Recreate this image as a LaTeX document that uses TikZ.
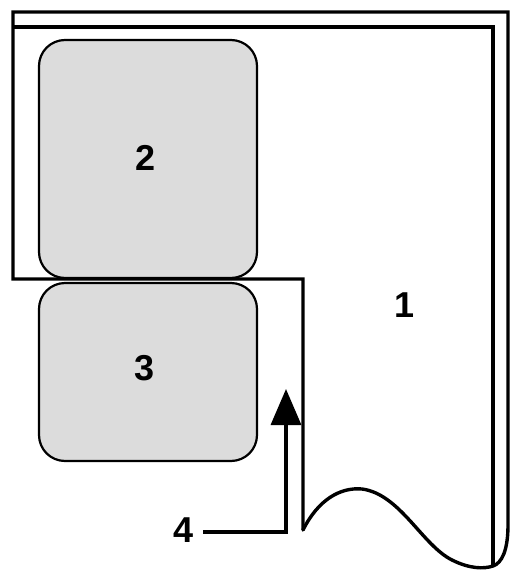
\documentclass[tikz,border=0pt]{standalone}
\usepackage{fontspec}
\setmainfont{Liberation Sans}
\usetikzlibrary{arrows.meta}
\definecolor{boxgray}{HTML}{DCDCDC}
\begin{document}
\begin{tikzpicture}[x=1pt,y=-1pt,
  frame/.style={line width=3.4pt,line join=miter},
  card/.style={draw=black,line width=2.2pt,fill=boxgray,rounded corners=26pt,inner sep=0pt},
  lbl/.style={font=\bfseries\fontsize{36}{40}\selectfont,inner sep=0pt}]
\useasboundingbox (0,0) rectangle (512,576);
% outer frame
\coordinate (o1) at (13,279);
\coordinate (o2) at (13,12);
\coordinate (o3) at (508,12);
\coordinate (o4) at (508,525);
\coordinate (i1) at (13,27);
\coordinate (i2) at (493,27);
\coordinate (i3) at (493,566);
\coordinate (s1) at (303,279);
\coordinate (s2) at (303,530);
\draw[frame] (s2) -- (s1) -- (o1) -- (o2) -- (o3) -- (o4)
  .. controls (508,550) and (502,563) .. (i3);
\draw[frame] (i1) -- (i2) -- (i3);
\draw[frame,line cap=round] (s2) .. controls (318,500) and (340,487) .. (362,489)
  .. controls (400,494) and (422,545) .. (452,560)
  .. controls (470,569) and (484,569) .. (i3);
% cards
\node[card,minimum width=218pt,minimum height=238pt] (b2) at (148,159) {};
\node[card,minimum width=218pt,minimum height=178pt] (b3) at (148,372) {};
% labels
\node[lbl] (l2) at (145.5,158) {2};
\node[lbl] (l3) at (145,368) {3};
\node[lbl] (l1) at (405,305) {1};
\node[lbl] (l4) at (184,530) {4};
% arrow 4
\coordinate (a1) at (203,532);
\coordinate (a2) at (286,532);
\coordinate (a3) at (286,389);
\draw[frame,-{Triangle[length=36pt,width=30pt]}] (a1) -- (a2) -- (a3);
\end{tikzpicture}
\end{document}
